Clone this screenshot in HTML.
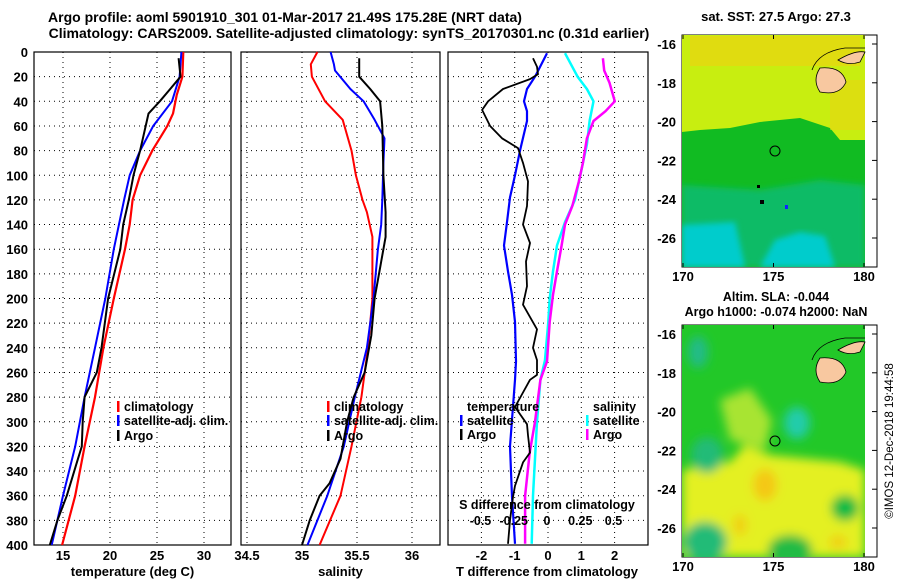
<!DOCTYPE html>
<html><head><meta charset="utf-8"><style>
body{margin:0;background:#fff;}
svg{display:block;font-family:"Liberation Sans",sans-serif;font-weight:bold;}
</style></head><body>
<svg id="c" width="900" height="580" viewBox="0 0 900 580">
<defs>
<filter id="bl" x="-20%" y="-20%" width="140%" height="140%"><feGaussianBlur stdDeviation="5"/></filter>
<filter id="bl2"><feGaussianBlur stdDeviation="3"/></filter>
<clipPath id="m1"><rect x="682" y="35" width="183" height="232"/></clipPath>
<clipPath id="m2"><rect x="682" y="325" width="183" height="232"/></clipPath>
</defs>
<text x="285" y="22" font-size="14" text-anchor="middle">Argo profile: aoml 5901910_301 01-Mar-2017 21.49S 175.28E (NRT data)</text>
<text x="349" y="38" font-size="14" text-anchor="middle">Climatology: CARS2009. Satellite-adjusted climatology: synTS_20170301.nc (0.31d earlier)</text>
<g id="plots"></g>
<!-- map 1 -->
<g>
<text x="776" y="21" font-size="13" text-anchor="middle">sat. SST: 27.5 Argo: 27.3</text>
<rect x="682" y="35" width="195" height="232" fill="#fff" stroke="#000"/>
<g clip-path="url(#m1)">
<rect x="682" y="35" width="183" height="232" fill="#11bb22"/>
<path d="M682 35 H865 V140 L840 140 L830 128 L800 118 L760 122 L730 128 L700 130 L682 132 Z" fill="#c8ee10"/>
<rect x="690" y="36" width="170" height="30" fill="#f0d010" opacity="0.6"/>
<rect x="830" y="80" width="35" height="50" fill="#f0d010" opacity="0.5"/>
<path d="M682 185 L760 190 L820 180 L865 185 V267 H682 Z" fill="#11bb66" filter="url(#bl2)"/>
<path d="M682 225 L735 222 L745 267 H682 Z" fill="#00cccc" filter="url(#bl2)"/>
<path d="M760 267 L775 240 L800 232 L825 236 L835 267 Z" fill="#00cccc" filter="url(#bl2)"/>
</g>
<path d="M820 68 Q812 80 820 92 Q840 96 846 82 Q842 66 820 68 Z" fill="#f8c8a0" stroke="#000" stroke-width="0.8"/>
<path d="M838 60 Q855 50 865 52 L860 62 Q848 66 838 60 Z" fill="#f8c8a0" stroke="#000" stroke-width="0.8"/>
<path d="M812 70 Q818 52 845 48 L865 48" fill="none" stroke="#000" stroke-width="0.8"/>
<circle cx="775" cy="151" r="5" fill="none" stroke="#000"/>
<rect x="757" y="185" width="3" height="3" fill="#000"/><rect x="760" y="200" width="4" height="4" fill="#000"/><rect x="785" y="205" width="3" height="4" fill="#1122ff"/>
<g id="m1ax" font-size="13"></g>
</g>
<!-- map 2 -->
<g>
<text x="776" y="301" font-size="12.5" text-anchor="middle">Altim. SLA: -0.044</text>
<text x="776" y="316" font-size="12.5" text-anchor="middle">Argo h1000: -0.074 h2000: NaN</text>
<rect x="682" y="325" width="195" height="232" fill="#fff" stroke="#000"/>
<g clip-path="url(#m2)">
<rect x="682" y="325" width="183" height="232" fill="#22c828"/>
<g filter="url(#bl)">
<path d="M682 470 L730 462 L745 445 L770 455 L800 458 L840 462 L865 470 V557 H682 Z" fill="#e4f020"/>
<path d="M720 400 L750 388 L772 420 L765 450 L730 440 Z" fill="#a8e430"/>
<ellipse cx="765" cy="485" rx="12" ry="16" fill="#f4c818"/>
<ellipse cx="740" cy="525" rx="7" ry="11" fill="#f0d018"/>
<ellipse cx="838" cy="542" rx="9" ry="7" fill="#f0d018"/>
<ellipse cx="698" cy="352" rx="10" ry="16" fill="#22bb88"/>
<ellipse cx="797" cy="423" rx="13" ry="16" fill="#22ccaa"/>
<ellipse cx="707" cy="455" rx="16" ry="18" fill="#22bb77"/>
<ellipse cx="705" cy="542" rx="22" ry="20" fill="#22bb77"/>
<ellipse cx="790" cy="550" rx="22" ry="15" fill="#22bb44"/>
<ellipse cx="845" cy="508" rx="14" ry="13" fill="#11bb44"/>
</g>
</g>
<path d="M820 358 Q812 370 820 382 Q840 386 846 372 Q842 356 820 358 Z" fill="#f8c8a0" stroke="#000" stroke-width="0.8"/>
<path d="M838 350 Q855 340 865 342 L860 352 Q848 356 838 350 Z" fill="#f8c8a0" stroke="#000" stroke-width="0.8"/>
<path d="M812 360 Q818 342 845 338 L865 338" fill="none" stroke="#000" stroke-width="0.8"/>
<circle cx="775" cy="441" r="5" fill="none" stroke="#000"/>
<g id="m2ax" font-size="13"></g>
<text transform="translate(893,441) rotate(-90)" font-size="11.5" font-weight="normal" text-anchor="middle">©IMOS 12-Dec-2018 19:44:58</text>
</g>
</svg>
<script>
const depthTicks=[0,20,40,60,80,100,120,140,160,180,200,220,240,260,280,300,320,340,360,380,400];
const tempTicks=[15,20,25,30];
const salTicks=[34.5,35,35.5,36];
const tdTicks=[-2,-1,0,1,2];
const sdTicks=[-0.5,-0.25,0,0.25,0.5];
const sdLabels=["-0.5","-0.25","0","0.25","0.5"];
// temperature
const tClimD=[0,20,35,50,60,80,100,120,140,160,200,240,280,320,360,400];
const tClimV=[27.8,27.7,27.1,26.7,26.1,24.5,23.2,22.4,22.1,21.6,20.4,19.3,18.4,17.3,16.3,14.9];
const tSatD=[0,20,40,60,80,100,120,160,200,240,280,320,360,400];
const tSatV=[27.6,27.4,26.6,24.6,23.2,22.1,21.5,20.4,19.5,18.4,17.3,16.3,15.0,13.8];
const tArgoD=[5,20,30,40,50,70,80,100,120,140,160,200,240,260,280,300,320,330,360,380,400];
const tArgoV=[27.3,27.5,26.4,25.3,24.1,23.5,23.2,22.5,22.0,21.4,21.1,19.8,19.1,18.6,17.3,17.1,17.0,16.6,15.4,14.4,13.6];
// salinity
const sClimD=[0,10,20,40,55,80,100,120,130,150,200,240,280,320,360,400];
const sClimV=[35.14,35.08,35.09,35.21,35.37,35.45,35.49,35.55,35.59,35.64,35.64,35.6,35.54,35.45,35.35,35.16];
const sSatD=[0,10,15,30,40,55,70,90,120,140,160,200,240,280,320,360,400];
const sSatV=[35.26,35.29,35.3,35.44,35.56,35.66,35.75,35.74,35.73,35.72,35.69,35.65,35.59,35.48,35.38,35.23,35.05];
const sArgoD=[5,20,30,40,60,100,130,150,170,200,230,260,280,300,330,350,360,380,400];
const sArgoV=[35.52,35.52,35.62,35.71,35.73,35.74,35.76,35.76,35.72,35.66,35.63,35.57,35.47,35.41,35.35,35.25,35.16,35.07,35.0];
// differences
const dTSatD=[1,20,30,40,48,56,80,100,118,138,157,178,197,219,251,266,320,361,399];
const dTSatV=[-0.03,-0.39,-0.63,-0.72,-0.63,-0.63,-0.84,-0.99,-1.14,-1.23,-1.32,-1.2,-1.08,-0.99,-0.96,-0.99,-1.14,-1.08,-0.99];
const dTArgoD=[5,12,18,22,30,40,47,60,70,78,90,105,125,140,155,170,190,205,225,240,250,262,266,288,302,311,325,333,352,361,380,399];
const dTArgoV=[-0.45,-0.33,-0.3,-0.54,-1.35,-1.8,-1.98,-1.74,-1.38,-0.9,-0.75,-0.6,-0.63,-0.75,-0.54,-0.66,-0.63,-0.75,-0.33,-0.45,-0.33,-0.33,-0.54,-0.99,-0.63,-0.6,-0.54,-0.75,-0.99,-1.05,-1.14,-1.2];
const dSSatD=[1,20,30,40,56,75,100,120,138,157,178,200,219,250,266,300,330,360,399];
const dSSatV=[0.135,0.23,0.3,0.35,0.32,0.3,0.25,0.21,0.135,0.075,0.045,0.02,0.01,-0.015,-0.05,-0.075,-0.09,-0.105,-0.115];
const dSArgoD=[5,15,25,40,48,56,70,90,105,125,140,157,178,197,219,251,266,300,325,360,399];
const dSArgoV=[0.42,0.43,0.47,0.51,0.44,0.35,0.3,0.27,0.24,0.19,0.135,0.11,0.075,0.045,0.02,0,-0.05,-0.09,-0.13,-0.165,-0.165];

const NS='http://www.w3.org/2000/svg';
const root=document.getElementById('plots');
function mk(tag,attrs,parent){const e=document.createElementNS(NS,tag);for(const k in attrs)e.setAttribute(k,attrs[k]);(parent||root).appendChild(e);return e;}
const Y0=52,Y1=545;
const yD=d=>Y0+d*(Y1-Y0)/400;
const panels=[
 {x0:34,x1:231,f:v=>63+(v-15)*9.4,ticks:tempTicks,name:'temperature-panel',xl:'temperature (deg C)'},
 {x0:241,x1:440,f:v=>302+(v-35)*110,ticks:salTicks,name:'salinity-panel',xl:'salinity'},
 {x0:448,x1:648,f:v=>548+v*33.3,ticks:tdTicks,name:'difference-panel',xl:'T difference from climatology'}];
const sdX=v=>547+v*133;
panels.forEach((p,pi)=>{
 const g=mk('g',{});
 
 
 const fr=mk('rect',{x:p.x0,y:Y0,width:p.x1-p.x0,height:Y1-Y0,fill:'none',stroke:'#000','stroke-width':1.2},g);
 
 
 depthTicks.forEach(d=>{
  if(d>0&&d<400){const l=mk('line',{x1:p.x0,x2:p.x1,y1:yD(d),y2:yD(d),stroke:'#000','stroke-dasharray':'1,4'},g);
  
  }
  if(pi===0){const t=mk('text',{x:28,y:yD(d)+5,'font-size':13,'text-anchor':'end'},g);t.textContent=d;
  
  }
 });
 p.ticks.forEach(v=>{
  const x=p.f(v);
  const l=mk('line',{x1:x,x2:x,y1:Y0,y2:Y1,stroke:'#000','stroke-dasharray':'1,4'},g);
  
  
  const t=mk('text',{x:x,y:560,'font-size':13,'text-anchor':'middle'},g);t.textContent=v;
  
  
 });
 const xl=mk('text',{x:(p.x0+p.x1)/2+(pi==2?-1:0),y:576,'font-size':13,'text-anchor':'middle'},g);xl.textContent=p.xl;
 
 
});
function line(xs,ds,fx,col,w,name){
 const pts=xs.map((v,i)=>fx(v).toFixed(1)+','+yD(ds[i]).toFixed(1)).join(' ');
 const pl=mk('polyline',{points:pts,fill:'none',stroke:col,'stroke-width':w,'stroke-linejoin':'round'});
 
 
}
const P=panels;
line(tClimV,tClimD,P[0].f,'#ff0000',2.2,'temp-climatology-line');
line(tSatV,tSatD,P[0].f,'#0000ff',2,'temp-satellite-line');
line(tArgoV,tArgoD,P[0].f,'#000',2,'temp-argo-line');
line(sClimV,sClimD,P[1].f,'#ff0000',2,'sal-climatology-line');
line(sSatV,sSatD,P[1].f,'#0000ff',2,'sal-satellite-line');
line(sArgoV,sArgoD,P[1].f,'#000',2,'sal-argo-line');
line(dSSatV,dSSatD,sdX,'#00ffff',2.5,'sdiff-satellite-line');
line(dSArgoV,dSArgoD,sdX,'#ff00ff',2.5,'sdiff-argo-line');
line(dTSatV,dTSatD,P[2].f,'#0000ff',2.2,'tdiff-satellite-line');
line(dTArgoV,dTArgoD,P[2].f,'#000',1.8,'tdiff-argo-line');
sdTicks.forEach((v,i)=>{const t=mk('text',{x:sdX(v),y:525,'font-size':12.5,'text-anchor':'middle'});t.textContent=sdLabels[i];
 
 });
const st=mk('text',{x:547,y:509,'font-size':12.5,'text-anchor':'middle'});st.textContent='S difference from climatology';


function leg(x,y,col,label,name){
 const g=mk('g',{});
 
 
 if(col)mk('rect',{x:x,y:y-10,width:2.5,height:11,fill:col},g);
 const t=mk('text',{x:x+7,y:y,'font-size':12.5},g);t.textContent=label;
}
leg(117,411,'#ff0000','climatology','legend-climatology');
leg(117,425,'#0000ff','satellite-adj. clim.','legend-satellite-adj');
leg(117,440,'#000','Argo','legend-argo');
leg(327,411,'#ff0000','climatology','legend-sal-climatology');
leg(327,425,'#0000ff','satellite-adj. clim.','legend-sal-satellite-adj');
leg(327,440,'#000','Argo','legend-sal-argo');
leg(460,411,null,'temperature','legend-temperature-heading');
leg(460,425,'#0000ff','satellite','legend-tdiff-satellite');
leg(460,439,'#000','Argo','legend-tdiff-argo');
leg(586,411,null,'salinity','legend-salinity-heading');
leg(586,425,'#00ffff','satellite','legend-sdiff-satellite');
leg(586,439,'#ff00ff','Argo','legend-sdiff-argo');
const latTicks=[-16,-18,-20,-22,-24,-26];
const lonTicks=[170,175,180];
function mapAx(id,top,bot,lab){
 const g=document.getElementById(id);
 latTicks.forEach(v=>{const y=top+9+(-16-v)*19.4;
  mk('line',{x1:877,x2:872,y1:y,y2:y,stroke:'#000'},g);
  const t=mk('text',{x:676,y:y+5,'text-anchor':'end','font-size':13},g);t.textContent=v;
  
  });
 lonTicks.forEach(v=>{const x=683+(v-170)*18.1;
  mk('line',{x1:x,x2:x,y1:bot,y2:bot-4,stroke:'#000'},g);
  mk('line',{x1:x,x2:x,y1:top,y2:top+4,stroke:'#000'},g);
  if(lab){const t=mk('text',{x:x,y:bot+14,'text-anchor':'middle','font-size':13},g);t.textContent=v;
  
  }});
}
mapAx('m1ax',35,267,true);
mapAx('m2ax',325,557,true);
</script>
</body></html>
